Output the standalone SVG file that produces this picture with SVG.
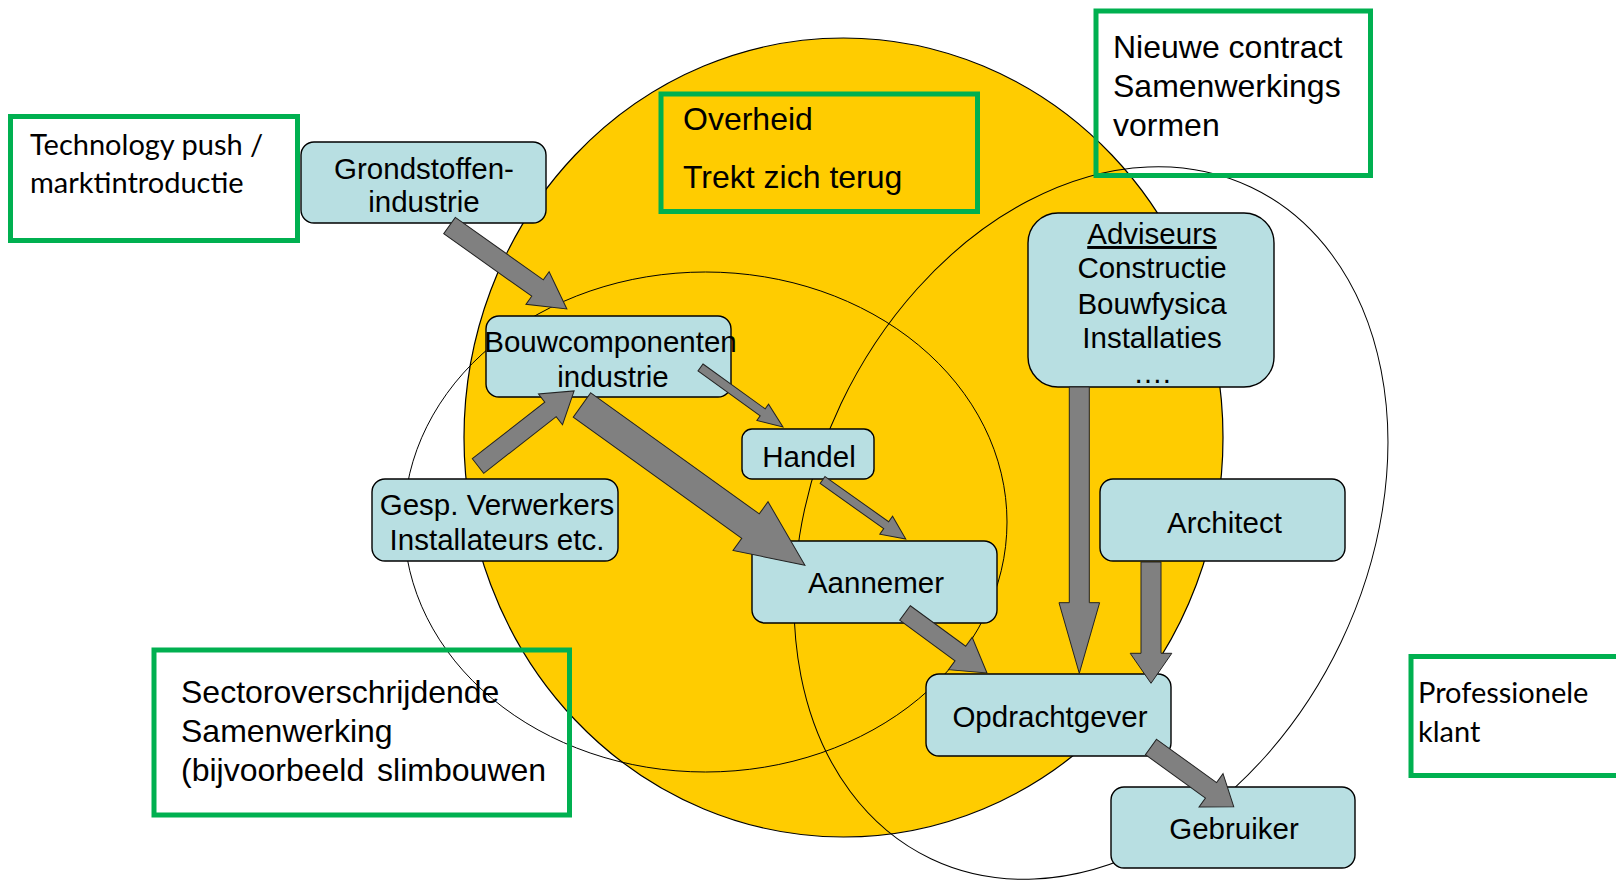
<svg xmlns="http://www.w3.org/2000/svg" width="1616" height="880" viewBox="0 0 1616 880">
<style>
.bg{fill:#ffffff}
.sun{fill:#FFCC00;stroke:#000;stroke-width:1.2}
.ring{fill:none;stroke:#000;stroke-width:1}
.box{fill:#B8DFE2;stroke:#000;stroke-width:1.4}
.note{fill:none;stroke:#00B050;stroke-width:5}
.arrow{fill:#808080;stroke:#222;stroke-width:1}
.tc{font-family:"Liberation Sans",Arial,sans-serif;font-size:29.5px;fill:#000;text-anchor:middle}
.tb{font-family:"Liberation Sans",Arial,sans-serif;font-size:32px;fill:#000}
.cal{font-family:Lato,"Open Sans",sans-serif;font-size:29px;fill:#000}
</style>
<rect class="bg" x="0" y="0" width="1616" height="880"/>
<g id="circles">
<ellipse class="sun" cx="843.5" cy="437.5" rx="379.5" ry="399.5"/>
<ellipse class="ring" cx="705.5" cy="522" rx="301.5" ry="250"/>
<ellipse class="ring" cx="1091" cy="523" rx="277" ry="372" transform="rotate(25.5 1091 523)"/>
</g>
<g id="note-technology">
<rect class="note" x="10.5" y="116.5" width="287" height="124"/>
<text class="cal" x="30" y="155">Technology push /</text>
<text class="cal" x="30" y="193">marktintroductie</text>
</g>
<g id="note-overheid">
<rect class="note" x="661" y="94" width="316.5" height="117.5"/>
<text class="tb" x="683" y="130">Overheid</text>
<text class="tb" x="683" y="188">Trekt zich terug</text>
</g>
<g id="note-contract">
<rect class="note" x="1096" y="11" width="274.5" height="164.5"/>
<text class="tb" x="1113" y="58">Nieuwe contract</text>
<text class="tb" x="1113" y="97">Samenwerkings</text>
<text class="tb" x="1113" y="136">vormen</text>
</g>
<g id="note-sector">
<rect class="note" x="154" y="650" width="415.5" height="165"/>
<text class="tb" x="181" y="703">Sectoroverschrijdende</text>
<text class="tb" x="181" y="742">Samenwerking</text>
<text class="tb" x="181" y="781">(bijvoorbeeld <tspan dx="4">slimbouwen</tspan></text>
</g>
<g id="note-professioneel">
<rect class="note" x="1411" y="656.5" width="220" height="119"/>
<text class="cal" x="1418" y="703">Professionele</text>
<text class="cal" x="1418" y="742">klant</text>
</g>
<g id="node-grondstoffen">
<rect class="box" x="301" y="142" width="245" height="81" rx="13"/>
<text class="tc" x="424" y="179">Grondstoffen-</text>
<text class="tc" x="424" y="212">industrie</text>
</g>
<g id="node-bouwcomponenten">
<rect class="box" x="486" y="316" width="245" height="81" rx="13"/>
<text class="tc" x="610.5" y="352">Bouwcomponenten</text>
<text class="tc" x="613" y="387">industrie</text>
</g>
<g id="node-handel">
<rect class="box" x="742" y="429" width="132" height="50" rx="10"/>
<text class="tc" x="809" y="467">Handel</text>
</g>
<g id="node-gesp">
<rect class="box" x="372" y="479" width="246" height="82" rx="13"/>
<text class="tc" x="497" y="515">Gesp. Verwerkers</text>
<text class="tc" x="497" y="550">Installateurs etc.</text>
</g>
<g id="node-aannemer">
<rect class="box" x="752" y="541" width="245" height="82" rx="13"/>
<text class="tc" x="876" y="593">Aannemer</text>
</g>
<g id="node-adviseurs">
<rect class="box" x="1028" y="213" width="246" height="174" rx="30"/>
<text class="tc" x="1152" y="244" text-decoration="underline">Adviseurs</text>
<text class="tc" x="1152" y="278">Constructie</text>
<text class="tc" x="1152" y="314">Bouwfysica</text>
<text class="tc" x="1152" y="348">Installaties</text>
<text class="tc" x="1152" y="383">….</text>
</g>
<g id="node-architect">
<rect class="box" x="1100" y="479" width="245" height="82" rx="13"/>
<text class="tc" x="1224.5" y="533">Architect</text>
</g>
<g id="node-opdrachtgever">
<rect class="box" x="926" y="674" width="245" height="82" rx="13"/>
<text class="tc" x="1050" y="727">Opdrachtgever</text>
</g>
<g id="node-gebruiker">
<rect class="box" x="1111" y="787" width="244" height="81" rx="13"/>
<text class="tc" x="1234" y="839">Gebruiker</text>
</g>
<g id="connectors">
<polygon class="arrow" transform="translate(449.5 225.5) rotate(35.4)" points="0,-10 108,-10 108,-20 144,0 108,20 108,10 0,10"/>
<polygon class="arrow" transform="translate(478 466) rotate(-38)" points="0,-9.25 92,-9.25 92,-19.5 122,0 92,19.5 92,9.25 0,9.25"/>
<polygon class="arrow" transform="translate(582 405) rotate(35.7)" points="0,-15 207.5,-15 207.5,-30 274.5,0 207.5,30 207.5,15 0,15"/>
<polygon class="arrow" transform="translate(700.5 367.5) rotate(35.8)" points="0,-4.3 76.7,-4.3 76.7,-10 101.7,0 76.7,10 76.7,4.3 0,4.3"/>
<polygon class="arrow" transform="translate(822.6 480) rotate(35.4)" points="0,-4.25 78,-4.25 78,-11 102,0 78,11 78,4.25 0,4.25"/>
<polygon class="arrow" transform="translate(905 613) rotate(36.2)" points="0,-9 68.6,-9 68.6,-20 101.6,0 68.6,20 68.6,9 0,9"/>
<polygon class="arrow" points="1069.3,387 1089.3,387 1089.3,602.7 1099.6,602.7 1079.3,673.3 1059,602.7 1069.3,602.7"/>
<polygon class="arrow" points="1141,562 1161,562 1161,653.3 1171.8,653.3 1151,683.3 1130.2,653.3 1141,653.3"/>
<polygon class="arrow" transform="translate(1151 747) rotate(35.8)" points="0,-9.5 74,-9.5 74,-20.5 102,0 74,20.5 74,9.5 0,9.5"/>
</g>
</svg>
